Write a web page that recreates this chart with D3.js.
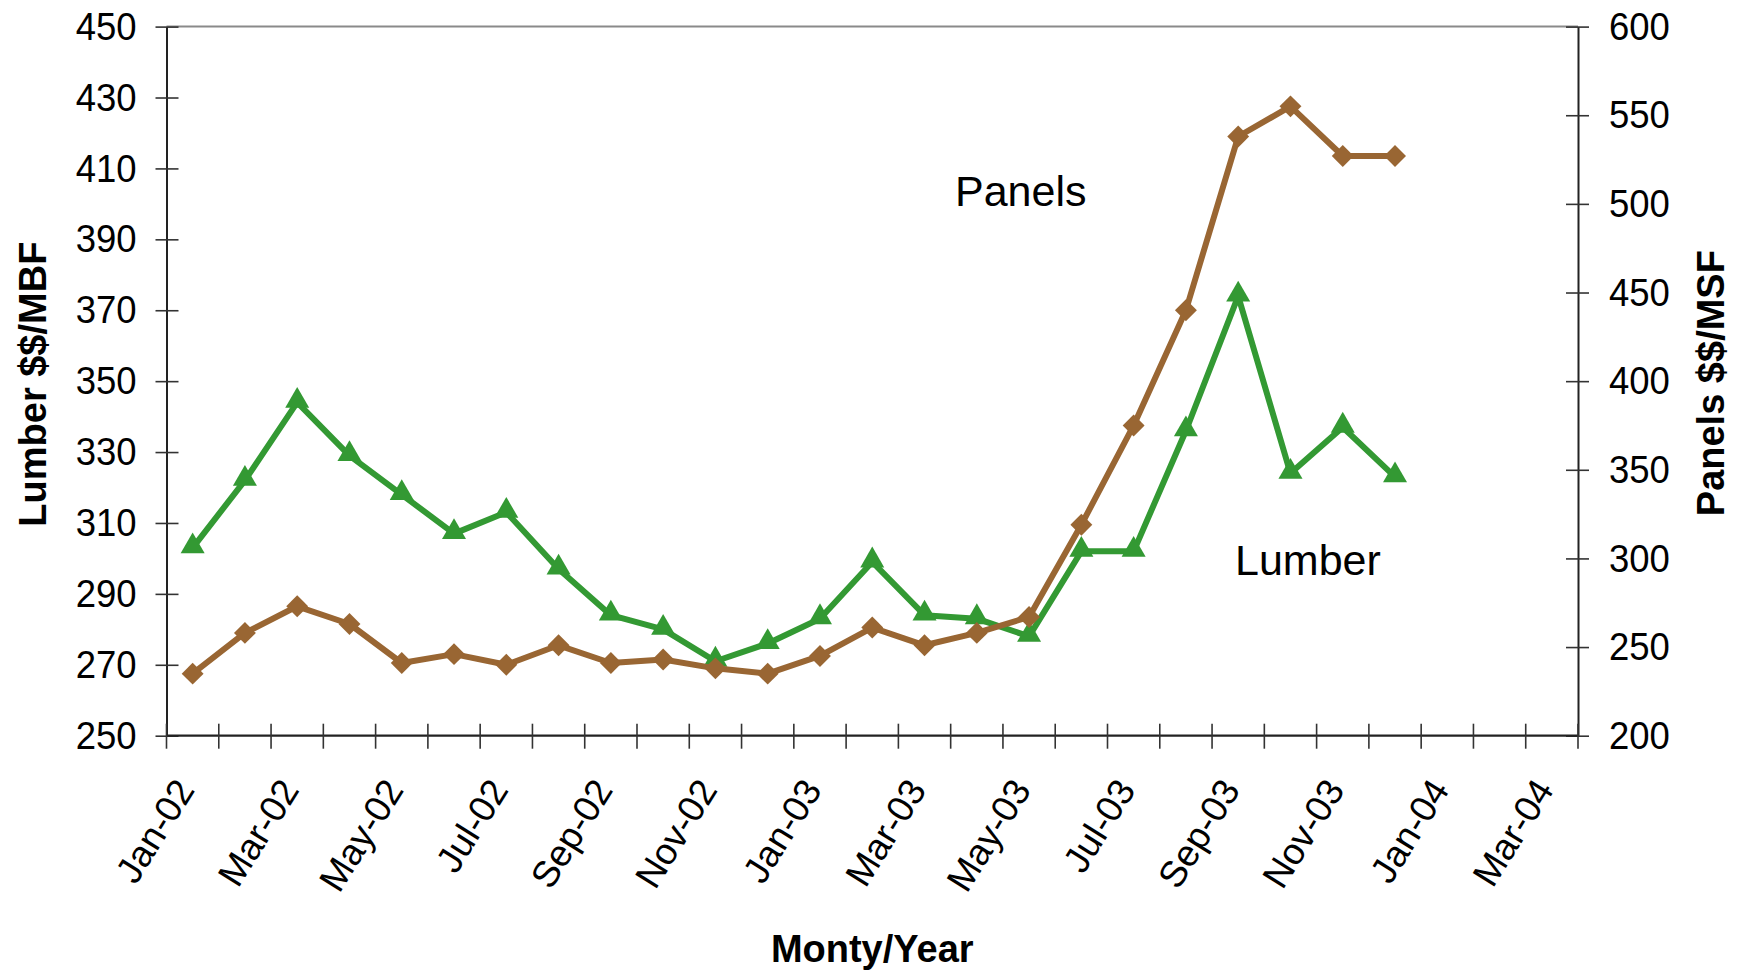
<!DOCTYPE html>
<html>
<head>
<meta charset="utf-8">
<script src="https://cdn.jsdelivr.net/npm/d3@7"></script>
<style>
  html, body { margin: 0; padding: 0; background: #fff; }
  svg { display: block; font-family: "Liberation Sans", Arial, sans-serif; }
</style>
</head>
<body>
<svg id="chart" width="1740" height="971"></svg>
<script>
// Monthly categories on the x axis (Jan-02 .. Mar-04)
const months = [
  "Jan-02","Feb-02","Mar-02","Apr-02","May-02","Jun-02","Jul-02","Aug-02","Sep-02","Oct-02","Nov-02","Dec-02",
  "Jan-03","Feb-03","Mar-03","Apr-03","May-03","Jun-03","Jul-03","Aug-03","Sep-03","Oct-03","Nov-03","Dec-03",
  "Jan-04","Feb-04","Mar-04"
];

// Lumber price, $/MBF (left axis), Jan-02 .. Dec-03
const lumber = [303, 322, 344, 329, 318, 307, 313, 297, 284, 280, 271, 276,
                283, 299, 284, 283, 278, 302, 302, 336, 374, 324, 337, 323];

// Panel price, $/MSF (right axis), Jan-02 .. Dec-03
const panels = [235, 258, 273, 263, 241, 246, 240, 251, 241, 243, 238, 235,
                245, 261, 251, 258, 267, 319, 375, 440, 538, 555, 527, 527];

const lumberTicks = [250, 270, 290, 310, 330, 350, 370, 390, 410, 430, 450];
const panelTicks  = [200, 250, 300, 350, 400, 450, 500, 550, 600];

const GREEN = "#339933";
const BROWN = "#996633";

const svg = d3.select("#chart");
const plot = { left: 166.5, right: 1578, top: 26.6, bottom: 735.7 };

const x = d3.scaleBand().domain(months).range([plot.left, plot.right]).padding(0);
const yL = d3.scaleLinear().domain([250, 450]).range([plot.bottom, plot.top]);
const yR = d3.scaleLinear().domain([200, 600]).range([plot.bottom, plot.top]);
const cx = i => x(months[i]) + x.bandwidth() / 2;

svg.append("rect").attr("width", 1740).attr("height", 971).attr("fill", "#fff");

// top frame line
svg.append("line")
  .attr("x1", plot.left).attr("x2", plot.right)
  .attr("y1", plot.top).attr("y2", plot.top)
  .attr("stroke", "#8a8a8a").attr("stroke-width", 2);

// left axis (Lumber)
const gL = svg.append("g").attr("transform", `translate(${plot.left},0)`)
  .call(d3.axisLeft(yL).tickValues(lumberTicks).tickSize(11).tickPadding(19).tickSizeOuter(0));
gL.selectAll(".tick line").attr("x2", -11).attr("x1", 12);

// right axis (Panels)
const gR = svg.append("g").attr("transform", `translate(${plot.right},0)`)
  .call(d3.axisRight(yR).tickValues(panelTicks).tickSize(11).tickPadding(20).tickSizeOuter(0));
gR.selectAll(".tick line").attr("x2", 11).attr("x1", -12);

// bottom axis: ticks on category boundaries
const gX = svg.append("g").attr("transform", `translate(0,${plot.bottom})`);
gX.append("line")
  .attr("x1", plot.left).attr("x2", plot.right)
  .attr("stroke", "#222").attr("stroke-width", 2.2);
const boundaries = months.map(m => x(m)).concat([plot.right]);
gX.selectAll("line.tk").data(boundaries).join("line").attr("class", "tk")
  .attr("x1", d => d).attr("x2", d => d)
  .attr("y1", -12).attr("y2", 13)
  .attr("stroke", "#333").attr("stroke-width", 1.6);

gX.selectAll("text.mlab").data(months.filter((m, i) => i % 2 === 0)).join("text")
  .attr("class", "mlab")
  .attr("transform", d => `translate(${x(d) + x.bandwidth() / 2 + 3},${54}) rotate(-58)`)
  .attr("text-anchor", "end")
  .attr("font-size", 37)
  .attr("fill", "#000")
  .text(d => d);

[gL, gR].forEach(g => {
  g.select(".domain").attr("stroke", "#222").attr("stroke-width", 2);
  g.selectAll(".tick line").attr("stroke", "#333").attr("stroke-width", 1.6);
  g.selectAll(".tick text").attr("font-size", 36.5).attr("fill", "#000")
    .attr("transform", "scale(1,1.08)")
    .attr("font-family", "Liberation Sans, Arial, sans-serif");
});

// axis titles
svg.append("text")
  .attr("transform", `translate(46,${(plot.top + plot.bottom) / 2 + 3}) rotate(-90)`)
  .attr("text-anchor", "middle").attr("font-weight", "bold").attr("font-size", 38)
  .text("Lumber $$/MBF");
svg.append("text")
  .attr("transform", `translate(1724,${(plot.top + plot.bottom) / 2 + 2}) rotate(-90)`)
  .attr("text-anchor", "middle").attr("font-weight", "bold").attr("font-size", 38)
  .text("Panels $$/MSF");
svg.append("text")
  .attr("x", (plot.left + plot.right) / 2).attr("y", 962)
  .attr("text-anchor", "middle").attr("font-weight", "bold").attr("font-size", 38)
  .text("Monty/Year");

// series lines
const lineL = d3.line().x((d, i) => cx(i)).y(d => yL(d));
const lineR = d3.line().x((d, i) => cx(i)).y(d => yR(d));

svg.append("path").datum(lumber)
  .attr("d", lineL).attr("fill", "none")
  .attr("stroke", GREEN).attr("stroke-width", 6).attr("stroke-linejoin", "round");
svg.selectAll("path.tri").data(lumber).join("path").attr("class", "tri")
  .attr("d", d3.symbol().type(d3.symbolTriangle).size(250))
  .attr("transform", (d, i) => `translate(${cx(i)},${yL(d) - 1.5})`)
  .attr("fill", GREEN);

svg.append("path").datum(panels)
  .attr("d", lineR).attr("fill", "none")
  .attr("stroke", BROWN).attr("stroke-width", 6).attr("stroke-linejoin", "round");
svg.selectAll("path.dia").data(panels).join("path").attr("class", "dia")
  .attr("d", d3.symbol().type(d3.symbolSquare).size(240))
  .attr("transform", (d, i) => `translate(${cx(i)},${yR(d)}) rotate(45)`)
  .attr("fill", BROWN);

// series annotations
svg.append("text").attr("x", 955).attr("y", 206).attr("font-size", 43).text("Panels");
svg.append("text").attr("x", 1235).attr("y", 575).attr("font-size", 43).text("Lumber");
</script>
</body>
</html>
